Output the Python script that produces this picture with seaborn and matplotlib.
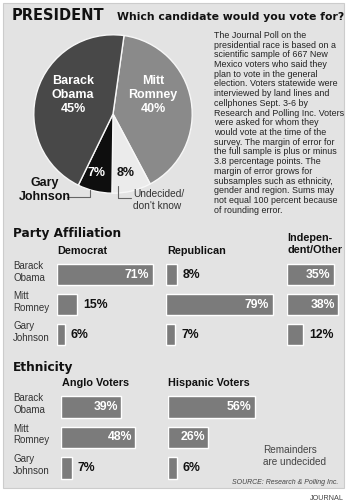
import matplotlib.pyplot as plt
import seaborn as sns
import pandas as pd
from matplotlib.patches import Rectangle

W, H = 350, 504

candidates = ["Barack\nObama", "Mitt\nRomney", "Gary\nJohnson"]
pie_labels = ["Mitt Romney", "Undecided/don't know", "Gary Johnson", "Barack Obama"]
pie_values = [40, 8, 7, 45]
pie_colors = ["#8a8a8a", "#ebebeb", "#0e0e0e", "#484848"]

democrat = [71, 15, 6]
republican = [8, 79, 7]
independent = [35, 38, 12]
anglo = [39, 48, 7]
hispanic = [56, 26, 6]

note = ("The Journal Poll on the\npresidential race is based on a\n"
        "scientific sample of 667 New\nMexico voters who said they\n"
        "plan to vote in the general\nelection. Voters statewide were\n"
        "interviewed by land lines and\ncellphones Sept. 3-6 by\n"
        "Research and Polling Inc. Voters\nwere asked for whom they\n"
        "would vote at the time of the\nsurvey. The margin of error for\n"
        "the full sample is plus or minus\n3.8 percentage points. The\n"
        "margin of error grows for\nsubsamples such as ethnicity,\n"
        "gender and region. Sums may\nnot equal 100 percent because\n"
        "of rounding error.")

BAR = "#7b7b7b"
PANEL = "#e3e3e3"
HEAVY = "DejaVu Sans"
BODY = "Liberation Sans"

sns.set_style("white")
plt.rcParams["font.family"] = [BODY, "DejaVu Sans"]


def box(x, y, w, h):
    return [x / W, 1 - (y + h) / H, w / W, h / H]


fig = plt.figure(figsize=(W / 100, H / 100), dpi=100)
fig.patch.set_facecolor("white")

bg = fig.add_axes([0, 0, 1, 1])
bg.set_xlim(0, W)
bg.set_ylim(H, 0)
bg.axis("off")
bg.add_patch(Rectangle((3, 3), 341, 485, facecolor=PANEL, edgecolor="#cccccc", lw=0.8))

# pie
pax = fig.add_axes(box(33, 34, 160, 160))
pax.pie(pie_values, colors=pie_colors, startangle=82, counterclock=False,
        wedgeprops=dict(edgecolor="#f7f7f7", linewidth=1.0))
pax.set_xlim(-1.01, 1.01)
pax.set_ylim(-1.01, 1.01)
pax.axis("off")


def bars(values, x0, top, scale, step):
    ax = fig.add_axes(box(x0, top, 100 * scale, 3 * step))
    df = pd.DataFrame({"who": candidates, "pct": values})
    sns.barplot(data=df, x="pct", y="who", orient="h", color=BAR,
                saturation=1, width=0.7, ax=ax)
    ax.set_xlim(0, 100)
    ax.set_ylim(2.5, -0.5)
    ax.axis("off")
    for p, v in zip(ax.patches, values):
        yc = p.get_y() + p.get_height() / 2
        if v >= 20:
            ax.annotate(f"{v}%", (p.get_width(), yc), xytext=(-2.5, 0),
                        textcoords="offset points", ha="right", va="center",
                        color="white", fontsize=8.8, fontweight="bold")
        else:
            ax.annotate(f"{v}%", (p.get_width(), yc), xytext=(4, 0),
                        textcoords="offset points", ha="left", va="center",
                        color="#111111", fontsize=8.8, fontweight="bold")
    return ax


bars(democrat, 57, 259.5, 1.35, 30)
bars(republican, 166, 259.5, 1.35, 30)
bars(independent, 287, 259.5, 1.35, 30)
bars(anglo, 61, 391.75, 1.55, 30.5)
bars(hispanic, 168, 391.75, 1.55, 30.5)

# text layer on top
ov = fig.add_axes([0, 0, 1, 1])
ov.set_xlim(0, W)
ov.set_ylim(H, 0)
ov.axis("off")

ov.text(12, 16, "PRESIDENT", family=HEAVY, fontweight="bold", fontsize=10.5,
        va="center", color="#111111")
ov.text(117, 17, "Which candidate would you vote for?", family=HEAVY,
        fontweight="bold", fontsize=7.8, va="center", color="#111111")
ov.text(214, 31, note, fontsize=6.4, linespacing=1.1, va="top", color="#222222")

# pie labels
ov.text(73, 95, "Barack\nObama\n45%", color="white", fontweight="bold",
        fontsize=9, ha="center", va="center", linespacing=1.2)
ov.text(153, 95, "Mitt\nRomney\n40%", color="white", fontweight="bold",
        fontsize=9, ha="center", va="center", linespacing=1.2)
ov.text(96, 173, "7%", color="white", fontweight="bold", fontsize=9,
        ha="center", va="center")
ov.text(126, 173, "8%", color="#111111", fontweight="bold", fontsize=9,
        ha="center", va="center")
ov.text(45, 190, "Gary\nJohnson", color="#111111", fontweight="bold",
        fontsize=9, ha="center", va="center", linespacing=1.15)
ov.text(133, 200, "Undecided/\ndon't know", color="#333333", fontsize=7.3,
        ha="left", va="center", linespacing=1.15)
ov.plot([67, 90, 90], [197, 197, 190], color="#666666", lw=0.8)
ov.plot([118, 118, 131], [186, 198, 198], color="#666666", lw=0.8)

# section titles and column headers
ov.text(13, 234, "Party Affiliation", family=HEAVY, fontweight="bold",
        fontsize=8.7, va="center", color="#111111")
ov.text(13, 368, "Ethnicity", family=HEAVY, fontweight="bold",
        fontsize=8.7, va="center", color="#111111")
hdr = dict(fontweight="bold", fontsize=7.8, va="center", color="#111111")
ov.text(57, 251, "Democrat", **hdr)
ov.text(167, 251, "Republican", **hdr)
ov.text(287, 244, "Indepen-\ndent/Other", linespacing=1.15, **hdr)
ov.text(62, 383, "Anglo Voters", **hdr)
ov.text(168, 383, "Hispanic Voters", **hdr)

for i, name in enumerate(candidates):
    ov.text(13, 272 + 30 * i, name, fontsize=7, va="center",
            linespacing=1.2, color="#333333")
    ov.text(13, 404 + 30.5 * i, name, fontsize=7, va="center",
            linespacing=1.2, color="#333333")

ov.text(263, 456, "Remainders\nare undecided", fontsize=7.2, va="center",
        linespacing=1.2, color="#444444")
ov.text(338, 483, "SOURCE: Research & Polling Inc.", fontsize=5, style="italic",
        ha="right", va="center", color="#444444")
ov.text(344, 498, "JOURNAL", fontsize=5.2, ha="right", va="center",
        color="#444444")

fig.savefig("out.png", dpi=100, facecolor="white")
